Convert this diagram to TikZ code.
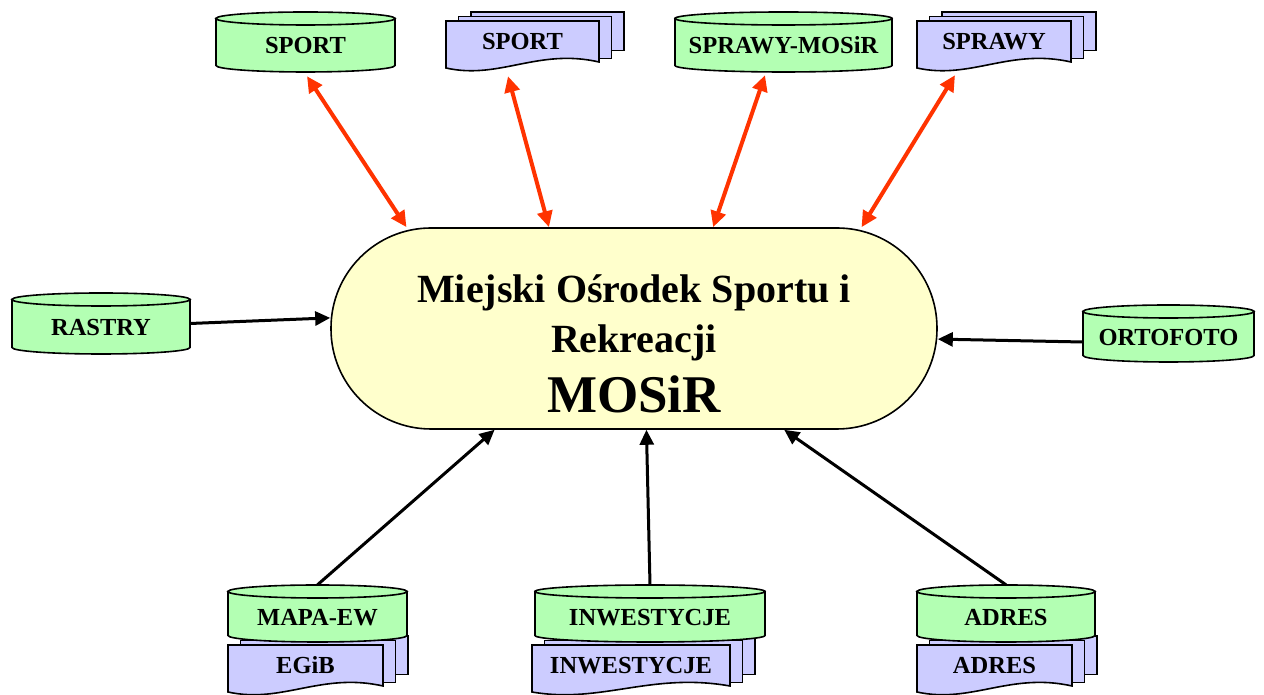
\documentclass[tikz,border=0pt]{standalone}
\usepackage{fontspec}
\setmainfont{Liberation Serif}
\usetikzlibrary{arrows.meta}

\definecolor{dbgreen}{RGB}{179,255,179}
\definecolor{docblue}{RGB}{204,204,255}
\definecolor{hubyellow}{RGB}{255,255,204}
\definecolor{linkred}{RGB}{255,51,0}

\tikzset{
  outline/.style={draw=black, line width=1.6pt},
  dblabel/.style={font=\bfseries\fontsize{24.5}{28}\selectfont, inner sep=0pt, text height=24pt, text depth=0pt},
  doclabel/.style={font=\bfseries\fontsize{24.5}{28}\selectfont, inner sep=0pt, text height=16pt, text depth=6pt},
  biarrow/.style={draw=linkred, line width=4pt, {Triangle[length=16pt,width=15pt]}-{Triangle[length=16pt,width=15pt]}},
  feed/.style={draw=black, line width=3pt, -{Triangle[length=15pt,width=14pt]}}
}

% database: name, centre x, centre y, width, height, label
\newcommand{\dbase}[6]{%
  \draw[outline, fill=dbgreen] ({#2-#4/2},{#3+#5/2-6.5}) -- ({#2-#4/2},{#3-#5/2+6.5})
    arc[start angle=180, end angle=360, x radius=#4/2, y radius=6.5]
    -- ({#2+#4/2},{#3+#5/2-6.5}) -- cycle;
  \draw[outline, fill=dbgreen] (#2,{#3+#5/2-6.5}) ellipse[x radius=#4/2, y radius=6.5];
  \node[dblabel, minimum width=#4pt, minimum height=#5pt] (#1) at (#2,#3) {#6};
}

% stack of documents: name, left, top, width, height, label
\newcommand{\docs}[6]{%
  \draw[outline, fill=docblue] ({#2+25},{#3+9}) rectangle ({#2+#4+25},{#3-0.63*#5});
  \draw[outline, fill=docblue] ({#2+12.5},{#3+4.5}) rectangle ({#2+#4+12.5},{#3-0.8*#5});
  \draw[outline, fill=docblue] (#2,#3) -- ({#2+#4},#3) -- ({#2+#4},{#3-#5+6})
    .. controls ({#2+0.6*#4},{#3-#5+20}) and ({#2+0.35*#4},{#3-#5-12}) .. (#2,{#3-#5}) -- cycle;
  \node[doclabel, minimum width=#4pt, minimum height=#5pt] (#1) at ({#2+#4/2},{#3-#5/2}) {#6};
}

\begin{document}
\begin{tikzpicture}[x=1pt, y=1pt]
\useasboundingbox (0,0) rectangle (1264,695);

% centre
\node[outline, fill=hubyellow, rounded corners=100pt, minimum width=606pt, minimum height=201pt] (mosir) at (634,366.5) {};
\node[font=\bfseries\fontsize{40}{50}\selectfont, align=center] (mosirtext) at ([yshift=-15pt]mosir.center)
  {Miejski Ośrodek Sportu i\\Rekreacji\\[10pt]{\fontsize{53}{60}\selectfont MOSiR}};

% top row
\dbase{sportdb}{305.5}{653}{179}{60}{SPORT}
\docs{sportdoc}{446}{674}{153}{47}{SPORT}
\dbase{sprawydb}{783.5}{653}{217}{60}{SPRAWY-MOSiR}
\docs{sprawydoc}{917}{674}{154}{47}{SPRAWY}

% sides
\dbase{rastry}{101}{371.5}{178}{61}{RASTRY}
\dbase{orto}{1168.5}{361.5}{171}{57}{ORTOFOTO}

% bottom row, documents under the databases
\docs{egib}{228}{50}{155}{47}{EGiB}
\dbase{mapa}{317.5}{81.5}{179}{57}{MAPA-EW}
\docs{inwestdoc}{532}{50}{198}{47}{INWESTYCJE}
\dbase{inwestdb}{650}{81.5}{230}{57}{INWESTYCJE}
\docs{adresdoc}{917}{50}{155}{47}{ADRES}
\dbase{adresdb}{1006}{81.5}{178}{57}{ADRES}

% links
\draw[biarrow] ([xshift=1.5pt,yshift=-4pt]sportdb.south) -- (mosir.156);
\draw[biarrow] ([xshift=-14.5pt,yshift=-8pt]sportdoc.south) -- (mosir.130.6);
\draw[biarrow] ([xshift=-18.5pt,yshift=-3pt]sprawydb.south) -- (mosir.52.1);
\draw[biarrow] ([xshift=-39pt,yshift=-7pt]sprawydoc.south) -- (mosir.24.8);

\draw[feed] (rastry.east) -- (mosir.178.8);
\draw[feed] ([yshift=-8.5pt]orto.west) -- (mosir.358.2);
\draw[feed] (mapa.north) -- (mosir.216.7);
\draw[feed] (inwestdb.north) -- (mosir.277.3);
\draw[feed] (adresdb.north) -- (mosir.326.8);
\end{tikzpicture}
\end{document}
